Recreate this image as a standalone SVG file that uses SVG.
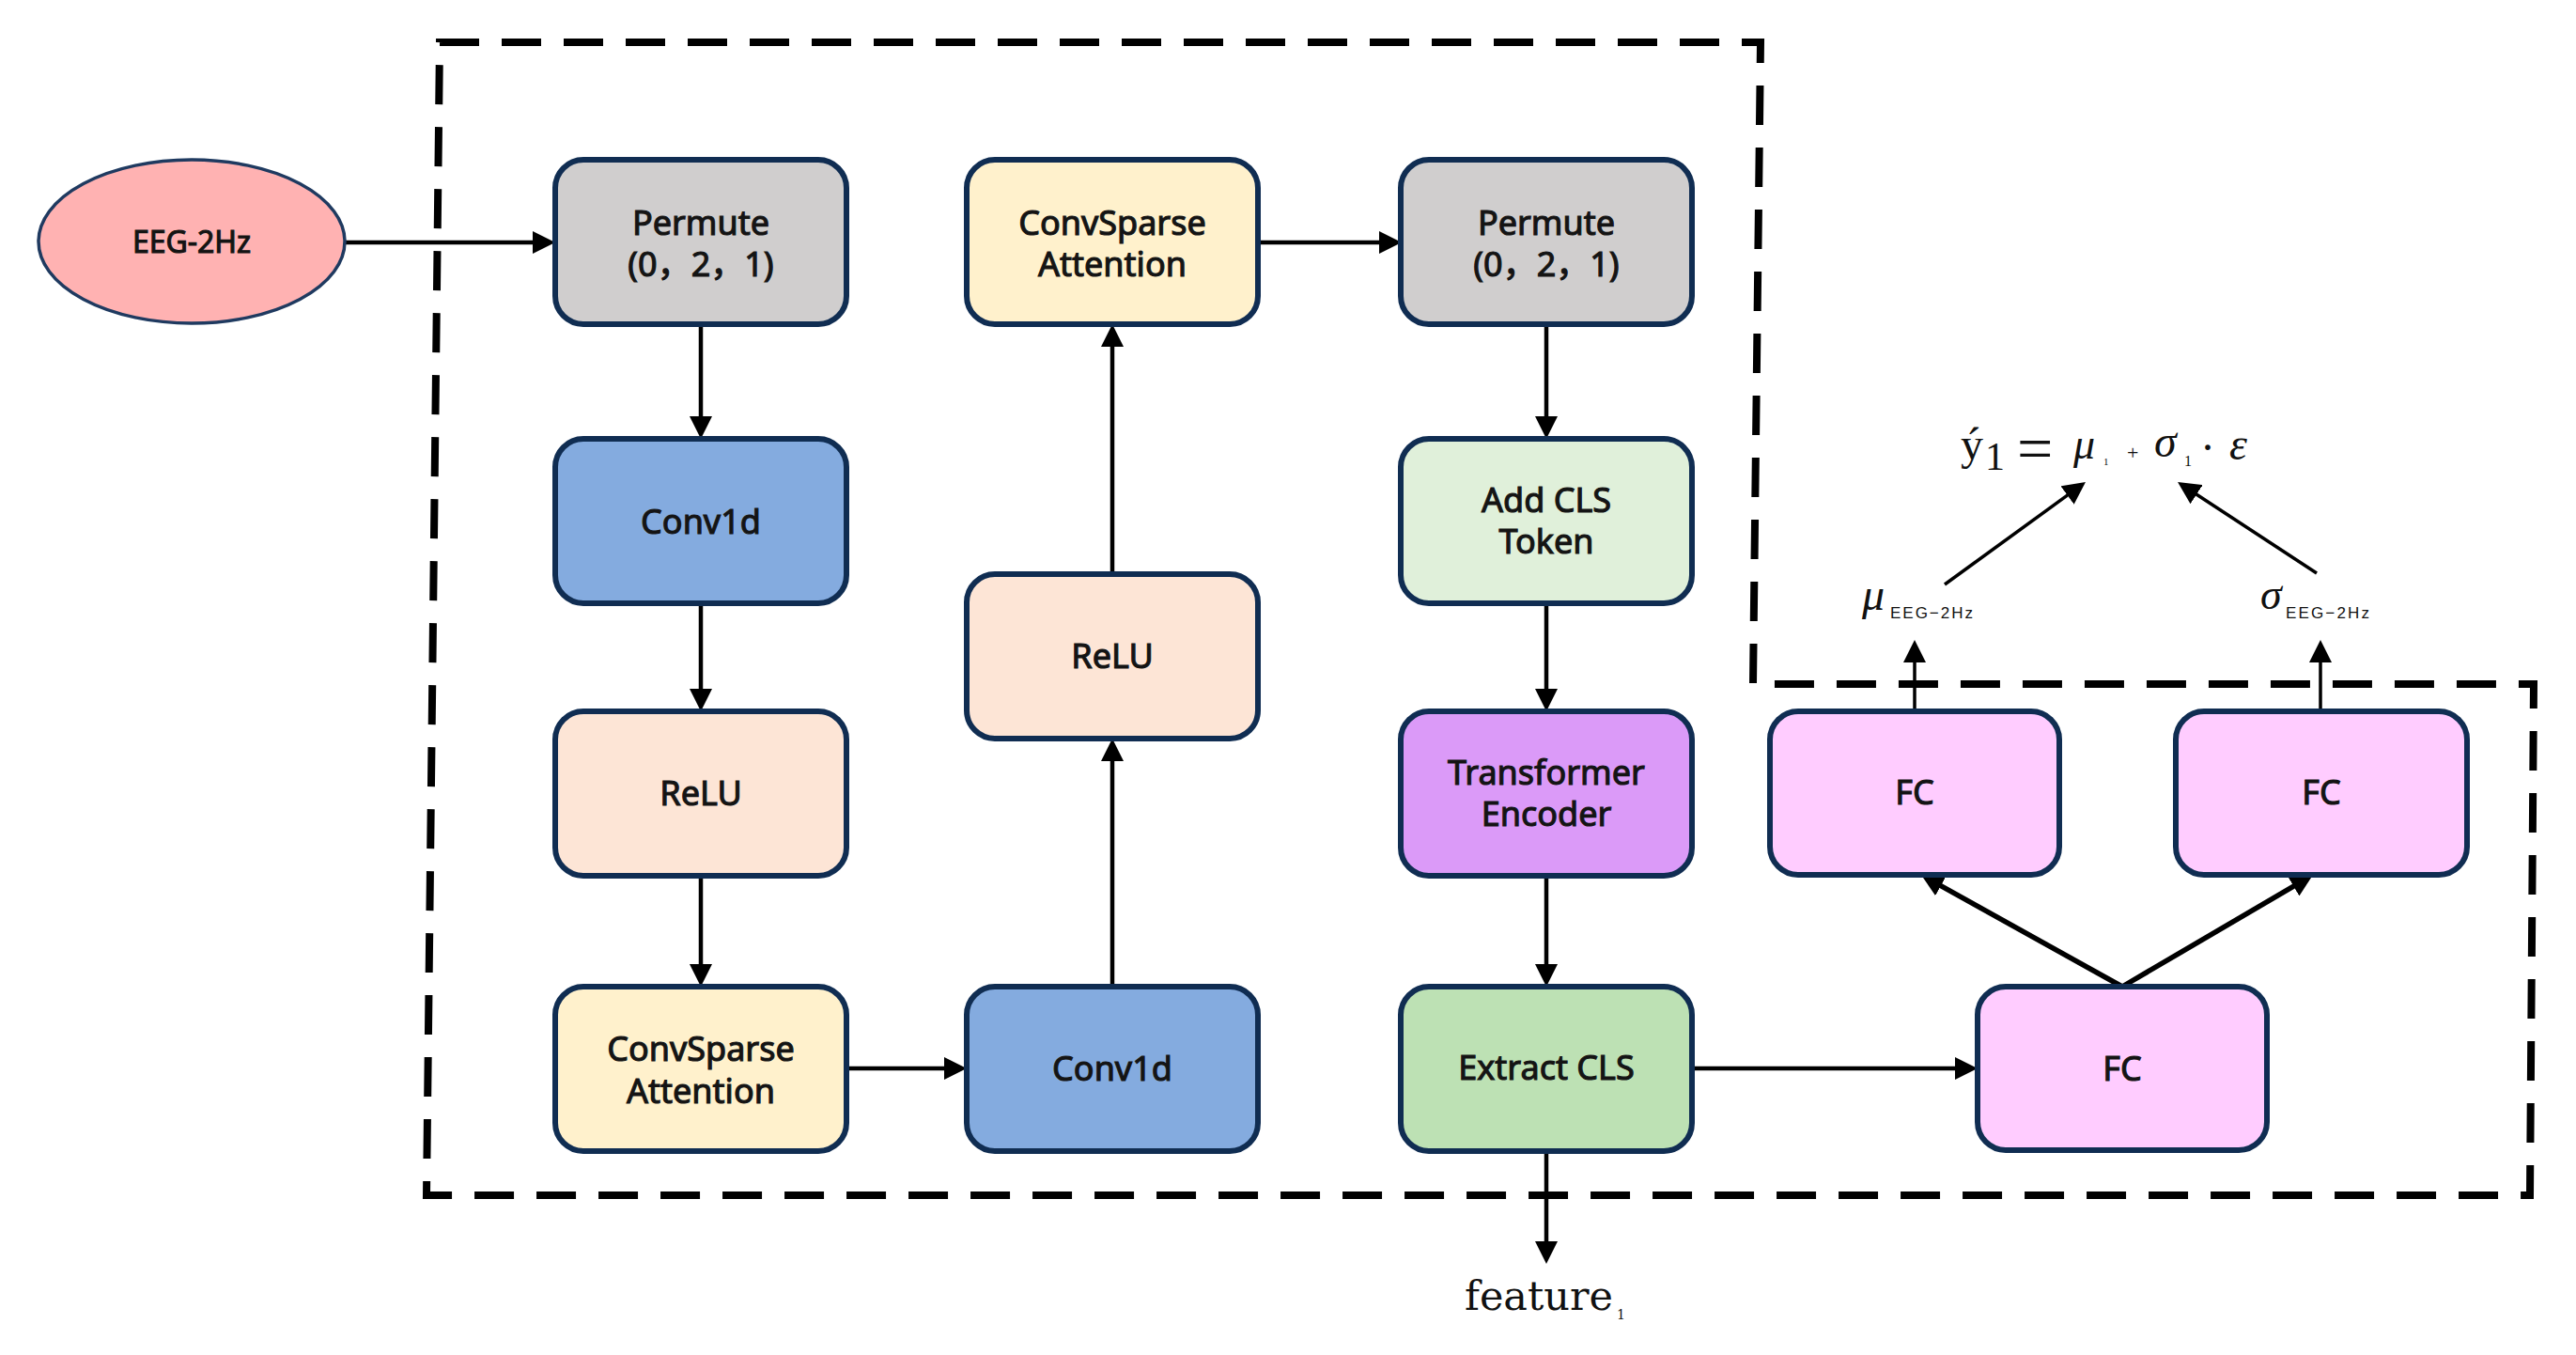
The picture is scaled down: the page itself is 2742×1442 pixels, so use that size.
<svg xmlns="http://www.w3.org/2000/svg" width="2742" height="1442" viewBox="0 0 2742 1442">
<style>
.box{stroke:#102D52;stroke-width:6}
.lbl{font-family:"Noto Sans","Noto Sans CJK SC",sans-serif;font-size:36px;fill:#141414;stroke:#141414;stroke-width:1.1px;text-anchor:middle}
.con{stroke:#000;stroke-width:4.5px;fill:none}
.dia{stroke:#000;stroke-width:5.5px;fill:none}
.thin{stroke:#000;stroke-width:3.5px;fill:none}
.math{font-family:"Liberation Serif","DejaVu Serif",serif;fill:#111}
.feat{font-family:"DejaVu Serif","Liberation Serif",serif;fill:#111}
.sub{font-family:"Liberation Sans",Arial,sans-serif;font-size:17px;fill:#111}
</style>
<defs>
<marker id="ah" markerUnits="userSpaceOnUse" markerWidth="24" markerHeight="24" viewBox="0 0 24 24" refX="14" refY="12" orient="auto">
<path d="M0,0 L24,12 L0,24 Z" fill="#000"/>
</marker>
</defs>
<rect width="2742" height="1442" fill="#fff"/>

<g id="frame">
<path d="M468,45 H1874 L1866,728 H2697 L2693,1272 H454 Z" fill="none" stroke="#000" stroke-width="8" stroke-dasharray="42 24"/>
</g>

<g id="connectors">
<line class="con" x1="366" y1="258" x2="581" y2="258" marker-end="url(#ah)"/>
<line class="con" x1="746" y1="345" x2="746" y2="457" marker-end="url(#ah)"/>
<line class="con" x1="746" y1="642" x2="746" y2="747" marker-end="url(#ah)"/>
<line class="con" x1="746" y1="932" x2="746" y2="1040" marker-end="url(#ah)"/>
<line class="con" x1="901" y1="1137" x2="1019" y2="1137" marker-end="url(#ah)"/>
<line class="con" x1="1184" y1="1050" x2="1184" y2="796" marker-end="url(#ah)"/>
<line class="con" x1="1184" y1="611" x2="1184" y2="355" marker-end="url(#ah)"/>
<line class="con" x1="1339" y1="258" x2="1482" y2="258" marker-end="url(#ah)"/>
<line class="con" x1="1646" y1="345" x2="1646" y2="457" marker-end="url(#ah)"/>
<line class="con" x1="1646" y1="642" x2="1646" y2="747" marker-end="url(#ah)"/>
<line class="con" x1="1646" y1="932" x2="1646" y2="1040" marker-end="url(#ah)"/>
<line class="con" x1="1646" y1="1225" x2="1646" y2="1335" marker-end="url(#ah)"/>
<line class="con" x1="1801" y1="1137" x2="2095" y2="1137" marker-end="url(#ah)"/>
<line class="dia" x1="2259" y1="1050" x2="2053.7" y2="935.9" marker-end="url(#ah)"/>
<line class="dia" x1="2259" y1="1050" x2="2453.4" y2="936.1" marker-end="url(#ah)"/>
<line class="thin" x1="2038" y1="757" x2="2038" y2="691" marker-end="url(#ah)"/>
<line class="thin" x1="2470" y1="757" x2="2470" y2="691" marker-end="url(#ah)"/>
<line class="thin" x1="2070" y1="622" x2="2211.9" y2="518.9" marker-end="url(#ah)"/>
<line class="thin" x1="2466" y1="610" x2="2326.4" y2="518.5" marker-end="url(#ah)"/>
</g>

<g id="eeg">
<ellipse cx="204" cy="257" rx="163" ry="87" fill="#FFB2B2" stroke="#1F3A60" stroke-width="3.5"/>
<text class="lbl" x="204" y="269" style="font-size:32px">EEG-2Hz</text>
</g>

<g id="permute1">
<rect class="box" x="591" y="170" width="310" height="175" rx="30" fill="#D0CECE"/>
<text class="lbl" x="746" y="250">Permute</text>
<text class="lbl" x="746" y="294">(0，2，1)</text>
</g>
<g id="conv1d1">
<rect class="box" x="591" y="467" width="310" height="175" rx="30" fill="#84ABDF"/>
<text class="lbl" x="746" y="568">Conv1d</text>
</g>
<g id="relu1">
<rect class="box" x="591" y="757" width="310" height="175" rx="30" fill="#FDE5D6"/>
<text class="lbl" x="746" y="857">ReLU</text>
</g>
<g id="convsparse1">
<rect class="box" x="591" y="1050" width="310" height="175" rx="30" fill="#FFF1CC"/>
<text class="lbl" x="746" y="1129">ConvSparse</text>
<text class="lbl" x="746" y="1174">Attention</text>
</g>

<g id="conv1d2">
<rect class="box" x="1029" y="1050" width="310" height="175" rx="30" fill="#84ABDF"/>
<text class="lbl" x="1184" y="1150">Conv1d</text>
</g>
<g id="relu2">
<rect class="box" x="1029" y="611" width="310" height="175" rx="30" fill="#FDE5D6"/>
<text class="lbl" x="1184" y="711">ReLU</text>
</g>
<g id="convsparse2">
<rect class="box" x="1029" y="170" width="310" height="175" rx="30" fill="#FFF1CC"/>
<text class="lbl" x="1184" y="250">ConvSparse</text>
<text class="lbl" x="1184" y="294">Attention</text>
</g>

<g id="permute2">
<rect class="box" x="1491" y="170" width="310" height="175" rx="30" fill="#D0CECE"/>
<text class="lbl" x="1646" y="250">Permute</text>
<text class="lbl" x="1646" y="294">(0，2，1)</text>
</g>
<g id="addcls">
<rect class="box" x="1491" y="467" width="310" height="175" rx="30" fill="#E0F0DA"/>
<text class="lbl" x="1646" y="545">Add CLS</text>
<text class="lbl" x="1646" y="589">Token</text>
</g>
<g id="transformer">
<rect class="box" x="1491" y="757" width="310" height="175" rx="30" fill="#DB9AF8"/>
<text class="lbl" x="1646" y="835">Transformer</text>
<text class="lbl" x="1646" y="879">Encoder</text>
</g>
<g id="extractcls">
<rect class="box" x="1491" y="1050" width="310" height="175" rx="30" fill="#BDE1B4"/>
<text class="lbl" x="1646" y="1149">Extract CLS</text>
</g>

<g id="fc_mid">
<rect class="box" x="2105" y="1050" width="308" height="174" rx="30" fill="#FFCCFF"/>
<text class="lbl" x="2259" y="1150">FC</text>
</g>
<g id="fc_mu">
<rect class="box" x="1884" y="757" width="308" height="174" rx="30" fill="#FFCCFF"/>
<text class="lbl" x="2038" y="856">FC</text>
</g>
<g id="fc_sigma">
<rect class="box" x="2316" y="757" width="310" height="174" rx="30" fill="#FFCCFF"/>
<text class="lbl" x="2471" y="856">FC</text>
</g>

<g id="mu_label">
<text class="math" x="1982" y="649" font-size="48" font-style="italic">μ</text>
<text class="sub" x="2012" y="658" textLength="88" lengthAdjust="spacing">EEG−2Hz</text>
</g>
<g id="sigma_label">
<text class="math" x="2406" y="648" font-size="46" font-style="italic">σ</text>
<text class="sub" x="2433" y="658" textLength="89" lengthAdjust="spacing">EEG−2Hz</text>
</g>

<g id="formula">
<text class="math"><tspan x="2087" y="489" font-size="48">ý</tspan><tspan x="2113" y="500" font-size="42">1</tspan><tspan x="2147" y="500" font-size="68">=</tspan><tspan x="2207" y="488" font-size="46" font-style="italic">μ</tspan><tspan x="2239" y="495" font-size="11">1</tspan><tspan x="2264" y="489" font-size="22">+</tspan><tspan x="2293" y="486" font-size="48" font-style="italic">σ</tspan><tspan x="2325" y="496" font-size="16">1</tspan><tspan x="2342" y="492" font-size="48">·</tspan><tspan x="2373" y="489" font-size="48" font-style="italic">ε</tspan></text>
</g>

<g id="feature">
<text class="feat" x="1559" y="1394" font-size="43">feature<tspan x="1721" y="1404" font-size="14">1</tspan></text>
</g>
</svg>
